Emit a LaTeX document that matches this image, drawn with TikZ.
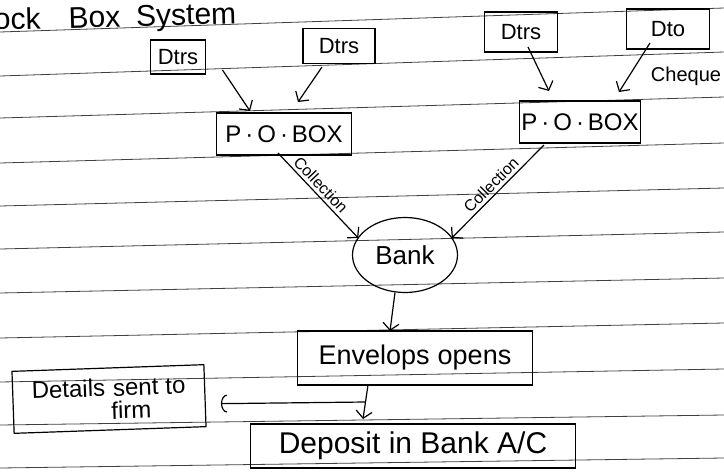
\documentclass[tikz,border=0pt]{standalone}
\usepackage{fontspec}
\setmainfont{Liberation Sans}
\usetikzlibrary{arrows.meta,shapes.geometric}
\newcommand\txtsize[1]{\fontsize{#1}{#1}\selectfont}
\begin{document}
\begin{tikzpicture}[x=1pt,y=-1pt,
  ink/.style={line width=1.2pt, black},
  box/.style={ink, draw, rectangle, inner sep=0pt, outer sep=0pt},
  oval/.style={ink, draw, ellipse, inner sep=0pt, outer sep=0pt},
  arr/.style={ink, -{Straight Barb[length=7pt,width=16pt,line width=1.2pt]}},
  carr/.style={ink, -{Arc Barb[length=6pt,width=18pt,line width=1.2pt]}},
  rule/.style={line width=0.8pt, black!75},
  lbl/.style={font=\txtsize{16}, inner sep=3pt}
]
\useasboundingbox (0,0) rectangle (724,475);
\fill[white] (0,0) rectangle (724,475);

% ruled notebook lines
\foreach \a/\b in {32/8,76/52,118/97,163/143,206/188,249/232,293/278,338/323,382/369,425/415,468/458}
  \draw[rule] (0,\a) -- (724,\b);

% heading
\node[anchor=base west, inner sep=0pt, rotate=1.5, font=\txtsize{30}] (title) at (-6,30)
  {ock\hspace{28pt}Box\hspace{16pt}System};

% debtors
\node[box, minimum width=55pt, minimum height=34pt, font=\txtsize{22}] (d1) at (178,57) {Dtrs};
\node[box, minimum width=72pt, minimum height=35pt, font=\txtsize{22}] (d2) at (339,46) {Dtrs};
\node[box, minimum width=73pt, minimum height=40pt, font=\txtsize{22}] (d3) at (521,32) {Dtrs};
\node[box, minimum width=83pt, minimum height=40pt, font=\txtsize{22}] (d4) at (668,29) {Dto};
\node[font=\txtsize{20}, inner sep=0pt] (chq) at (686,76) {Cheque};

% post office boxes
\node[box, minimum width=135pt, minimum height=42pt, font=\txtsize{24}] (p1) at (284,134) {P\,·\,O\,·\,BOX};
\node[box, minimum width=121pt, minimum height=42pt, font=\txtsize{24}] (p2) at (580,122) {P\,·\,O\,·\,BOX};

% bank
\node[oval, minimum width=105pt, minimum height=75pt, font=\txtsize{26}] (bank) at (405,255) {Bank};

% processing
\node[box, minimum width=235pt, minimum height=54pt, font=\txtsize{27}] (env) at (415,358) {Envelops\hspace{8pt}opens};
\node[box, minimum width=192pt, minimum height=62pt, rotate=2, align=center,
      font=\fontsize{24}{23}\selectfont] (det) at (109,399)
  {Details\hspace{8pt}sent\hspace{7pt}to\\\hspace{44pt}firm};
\node[box, minimum width=325pt, minimum height=44pt, font=\txtsize{30}] (dep) at (413,446) {Deposit in Bank A/C};

% debtors to boxes
\draw[arr] ([shift={(17,-4)}]d1.south east) -- ([shift={(-34,-2)}]p1.north);
\draw[arr] ([shift={(-17,3.5)}]d2.south) -- ([shift={(14,-11)}]p1.north);
\draw[arr] ([shift={(7,-5)}]d3.south) -- ([shift={(-31,-10)}]p2.north);
\draw[arr] ([shift={(-18,-6)}]d4.south) -- ([shift={(39,-9)}]p2.north);

% collection from boxes
\draw[arr] ([shift={(-6,-2)}]p1.south) -- node[lbl, pos=0.45, sloped, above] {Collection} (bank.160);
\draw[arr] ([shift={(-36,2)}]p2.south) -- node[lbl, pos=0.5, sloped, above] {Collection} (bank.20);

% bank processing
\draw[arr] ([shift={(-10,0)}]bank.south) -- ([shift={(-25,0)}]env.north);
\draw[arr] ([shift={(-47,0)}]env.south) -- ([shift={(-50,-5)}]dep.north);
\coordinate (j) at ([shift={(-49.5,17)}]env.south);
\draw[carr] (j) -- ([shift={(16,8)}]det.east);
\end{tikzpicture}
\end{document}
